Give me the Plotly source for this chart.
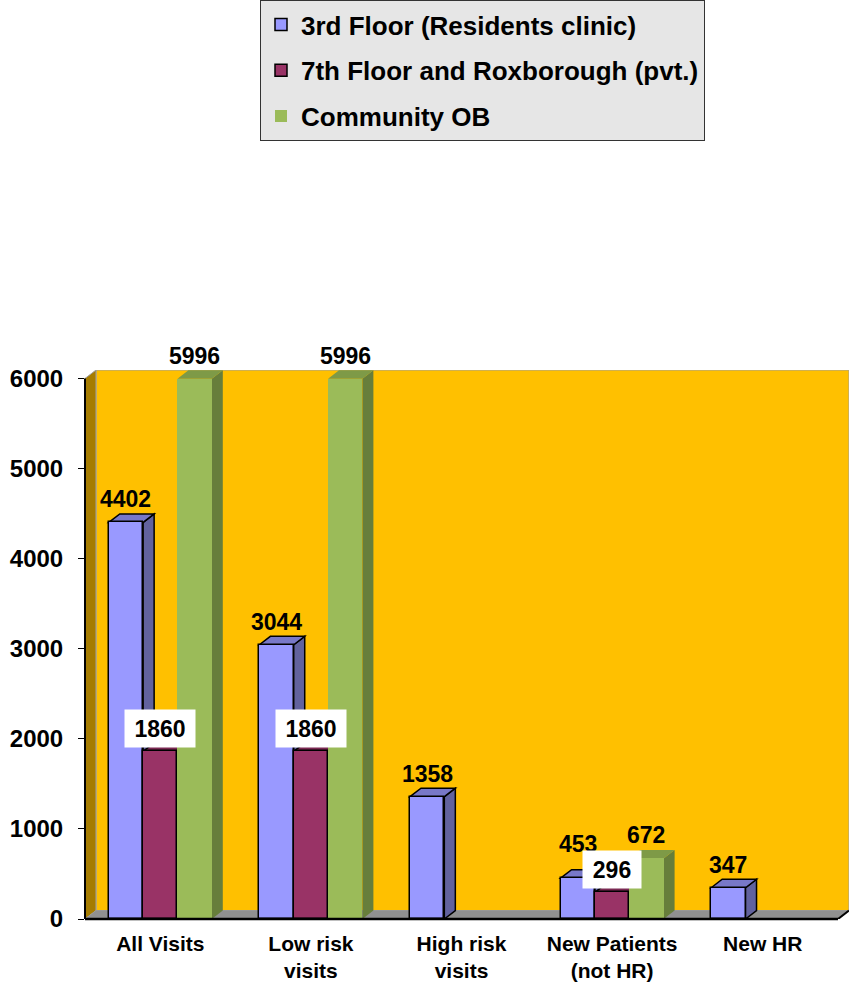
import plotly.graph_objects as go

# ---------------- data ----------------
categories = ["All Visits", "Low risk<br>visits", "High risk<br>visits",
              "New Patients<br>(not HR)", "New HR"]
series_names = ["3rd Floor (Residents clinic)",
                "7th Floor and Roxborough (pvt.)",
                "Community OB"]
third_floor = [4402, 3044, 1358, 453, 347]
seventh_floor = [1860, 1860, None, 296, None]
community_ob = [5996, 5996, None, 672, None]
y_ticks = [0, 1000, 2000, 3000, 4000, 5000, 6000]

# ---------------- style ----------------
FONT = "Liberation Sans, Arial, sans-serif"
front_colors = ["#9999FF", "#993366", "#9BBB59"]
side_colors = ["#62629E", "#6B2347", "#677E3B"]
top_colors = ["#7878C8", "#7A2952", "#7E9A47"]
outline = ["black", "black", None]
label_bg = [None, "white", None]

W = 0.228          # bar width (category units)
DX = 0.073         # 3-D depth offset, x (category units)
DY = 94            # 3-D depth offset, y (value units)
YMAX = 6000
offsets = [-W, 0.0, W]
label_nudge = {(0, 3): 11}

all_series = [third_floor, seventh_floor, community_ob]

fig = go.Figure()
shapes = []

# back wall, left wall, floor
shapes.append(dict(type="rect", xref="x", yref="y", x0=-0.5 + DX, x1=4.5 + DX,
                   y0=DY, y1=YMAX + DY, fillcolor="#FFC000",
                   line=dict(color="#A0A0A0", width=1), layer="below"))
shapes.append(dict(type="path", xref="x", yref="y",
                   path=f"M {-0.5},{0} L {-0.5},{YMAX} L {-0.5 + DX},{YMAX + DY} L {-0.5 + DX},{DY} Z",
                   fillcolor="#A67C00", line=dict(color="#A0A0A0", width=1), layer="below"))
shapes.append(dict(type="path", xref="x", yref="y",
                   path=f"M {-0.5},{0} L {4.5},{0} L {4.5 + DX},{DY} L {-0.5 + DX},{DY} Z",
                   fillcolor="#909090", line=dict(width=0), layer="below"))

# 3-D side and top faces
for i in range(len(categories)):
    for j, ser in enumerate(all_series):
        v = ser[i]
        if v is None:
            continue
        c = i + offsets[j]
        xl, xr = c - W / 2, c + W / 2
        ln = dict(color=outline[j], width=1.5) if outline[j] else dict(width=0)
        shapes.append(dict(type="path", xref="x", yref="y",
                           path=f"M {xr},{0} L {xr + DX},{DY} L {xr + DX},{v + DY} L {xr},{v} Z",
                           fillcolor=side_colors[j], line=ln, layer="below"))
        shapes.append(dict(type="path", xref="x", yref="y",
                           path=f"M {xl},{v} L {xl + DX},{v + DY} L {xr + DX},{v + DY} L {xr},{v} Z",
                           fillcolor=top_colors[j], line=ln, layer="below"))

# front faces (bars)
for j, ser in enumerate(all_series):
    xs = [i + offsets[j] for i in range(len(categories))]
    fig.add_trace(go.Bar(
        x=xs, y=ser, width=W, name=series_names[j], legendgroup=f"g{j}",
        marker=dict(color=front_colors[j],
                    line=dict(color=outline[j] or front_colors[j],
                              width=1.5 if outline[j] else 0)),
    ))

# axis lines
shapes.append(dict(type="line", xref="paper", yref="y", x0=0, x1=0, y0=0, y1=YMAX,
                   line=dict(color="black", width=2)))
shapes.append(dict(type="line", xref="x", yref="paper", x0=-0.5, x1=4.5, y0=0, y1=0,
                   line=dict(color="black", width=2.5)))
shapes.append(dict(type="line", xref="x", yref="y", x0=4.5, x1=4.5 + DX, y0=0, y1=DY,
                   line=dict(color="black", width=2)))

# value labels
annotations = []
for j, ser in enumerate(all_series):
    for i, v in enumerate(ser):
        if v is None:
            continue
        a = dict(x=i + offsets[j], y=v, xref="x", yref="y", text=str(v),
                 showarrow=False, yshift=23 + label_nudge.get((j, i), 0),
                 font=dict(family=FONT, size=23, color="black", weight="bold"))
        if label_bg[j]:
            a.update(bgcolor=label_bg[j], width=len(str(v)) * 12 + 20, height=35)
        annotations.append(a)

fig.update_layout(
    width=849, height=987,
    margin=dict(l=85, r=0, t=370, b=68),
    paper_bgcolor="white", plot_bgcolor="white",
    barmode="overlay", bargap=0,
    font=dict(family=FONT, color="black"),
    shapes=shapes, annotations=annotations,
    showlegend=True,
    legend=dict(x=(260 - 85) / 764, y=919 / 549, xanchor="left", yanchor="top",
                bgcolor="#E6E6E6", bordercolor="#333333", borderwidth=1,
                font=dict(family=FONT, size=26, color="black", weight="bold"),
                tracegroupgap=9, itemwidth=30, traceorder="grouped"),
    xaxis=dict(range=[-0.5, 4.5 + DX], tickvals=list(range(len(categories))),
               ticktext=categories, showgrid=False, zeroline=False, showline=False,
               ticks="", ticklabelstandoff=10,
               tickfont=dict(family=FONT, size=21, color="black", weight="bold")),
    yaxis=dict(range=[0, YMAX + DY], tickvals=y_ticks, showgrid=False, zeroline=False,
               showline=False, ticks="outside", ticklen=6, tickwidth=1, tickcolor="black",
               ticklabelstandoff=10,
               tickfont=dict(family=FONT, size=24, color="black", weight="bold")),
)

fig.write_html("out.html", config={"displayModeBar": False},
               post_script="document.body.style.margin='0px';")
